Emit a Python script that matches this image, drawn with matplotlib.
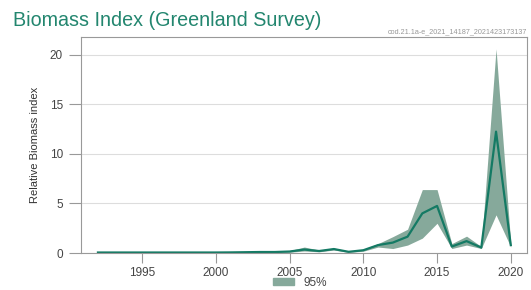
import matplotlib.pyplot as plt
from matplotlib.patches import Patch

plt.rcParams['font.family'] = ['Liberation Sans', 'DejaVu Sans']

years = list(range(1992, 2021))
index = [0.05, 0.05, 0.05, 0.05, 0.05, 0.05, 0.05, 0.05, 0.05, 0.06, 0.08, 0.1, 0.1,
         0.15, 0.35, 0.2, 0.4, 0.12, 0.28, 0.8, 1.05, 1.65, 4.0, 4.75, 0.65, 1.2, 0.55, 12.25, 0.8]
lower = [0.02, 0.02, 0.02, 0.02, 0.02, 0.02, 0.02, 0.02, 0.02, 0.03, 0.04, 0.05, 0.05,
         0.08, 0.2, 0.12, 0.3, 0.06, 0.18, 0.6, 0.45, 0.8, 1.5, 3.0, 0.45, 0.8, 0.45, 3.85, 0.6]
upper = [0.08, 0.08, 0.08, 0.08, 0.08, 0.08, 0.08, 0.08, 0.08, 0.1, 0.14, 0.18, 0.18,
         0.25, 0.6, 0.3, 0.5, 0.2, 0.38, 0.95, 1.65, 2.4, 6.4, 6.4, 0.95, 1.7, 0.65, 20.6, 0.95]

line_col = '#147a64'
band_col = '#86a99b'
title_col = '#23866f'
text_col = '#444444'

fig = plt.figure(figsize=(5.31, 2.90), dpi=100)
ax = fig.add_axes([81/531, 1-253/290, (527-81)/531, (253-37)/290])

ax.fill_between(years, lower, upper, color=band_col, linewidth=0)
ax.plot(years, index, color=line_col, linewidth=1.6)

ax.set_xlim(1990.85, 2021.1)
ax.set_ylim(0, 21.8)
ax.set_xticks([1995, 2000, 2005, 2010, 2015, 2020])
ax.set_yticks([0, 5, 10, 15, 20])
ax.yaxis.grid(True, color='#dddddd', linewidth=0.8)
ax.set_axisbelow(True)
for s in ax.spines.values():
    s.set_color('#999999')
    s.set_linewidth(0.8)
ax.tick_params(axis='y', length=9, width=0.8, color='#999999', labelsize=8.5, labelcolor=text_col, pad=4)
ax.tick_params(axis='x', length=7, width=0.8, color='#999999', labelsize=8.5, labelcolor=text_col, pad=3)
ax.set_ylabel('Relative Biomass index', fontsize=8, color='#333333', labelpad=7)

fig.text(13/531, 1-20/290, 'Biomass Index (Greenland Survey)', fontsize=14.2,
         color=title_col, va='center', ha='left')
fig.text(527/531, 1-32/290, 'cod.21.1a-e_2021_14187_2021423173137', fontsize=5.2,
         color='#999999', va='center', ha='right')

fig.legend(handles=[Patch(color=band_col, label='95%')], loc='center',
           bbox_to_anchor=(300/531, 1-283/290), frameon=False, fontsize=8.5,
           handlelength=1.8, handleheight=0.5, labelcolor=text_col,
           borderpad=0.1)

fig.savefig('out.png', dpi=100)
